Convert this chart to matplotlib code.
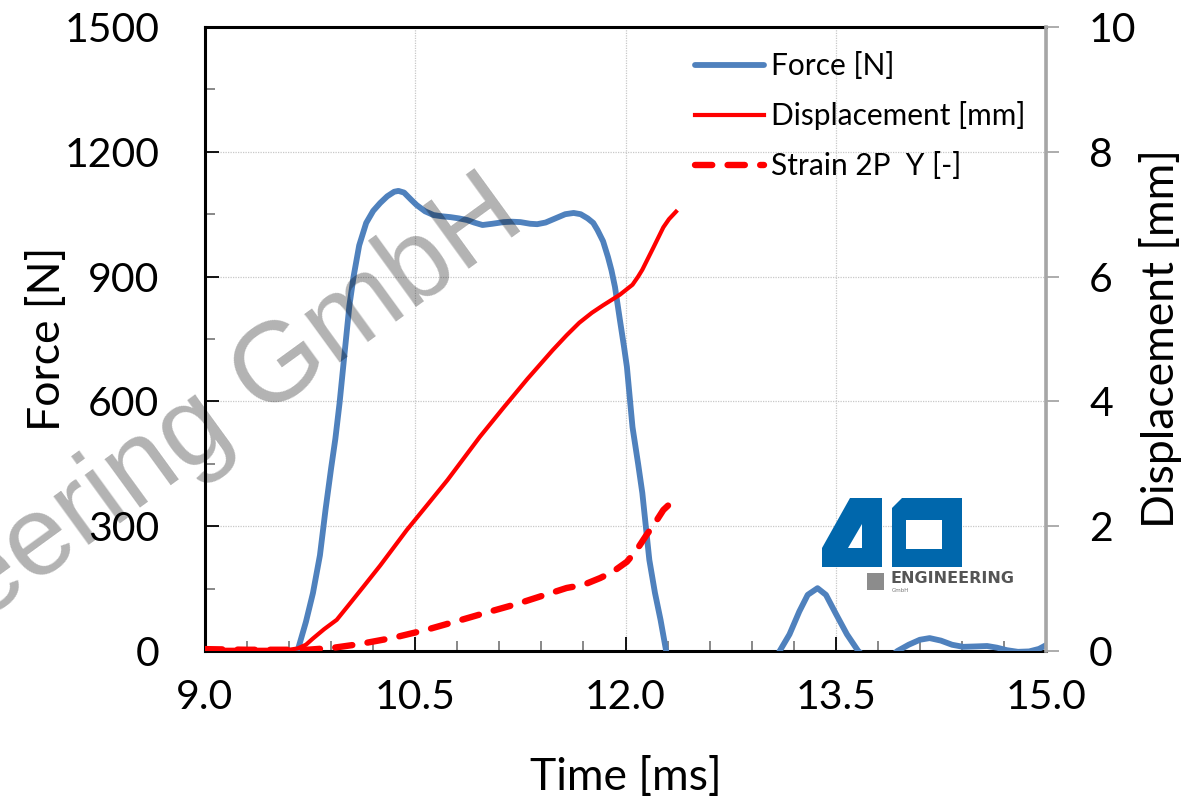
import matplotlib.pyplot as plt
from matplotlib.patches import Polygon

plt.rcParams['font.family'] = ['Lato', 'DejaVu Sans']

# force signal [ms, N]
t_force = [9.0, 9.3, 9.55, 9.66, 9.72, 9.77, 9.82, 9.86, 9.9, 9.93, 9.96, 10.0,
           10.03, 10.06, 10.1, 10.15, 10.2, 10.25, 10.3, 10.35, 10.38, 10.42,
           10.47, 10.51, 10.57, 10.63, 10.69, 10.75, 10.81, 10.87, 10.92, 10.98,
           11.05, 11.13, 11.19, 11.25, 11.32, 11.37, 11.43, 11.5, 11.57, 11.63,
           11.68, 11.73, 11.77, 11.8, 11.84, 11.875, 11.9, 11.925, 11.96, 11.99,
           12.01, 12.05, 12.09, 12.12, 12.17, 12.21, 12.25, 12.29, 12.4, 12.6,
           12.8, 13.0, 13.1, 13.17, 13.24, 13.3, 13.37, 13.43, 13.5, 13.58,
           13.66, 13.8, 13.94, 14.02, 14.1, 14.17, 14.25, 14.33, 14.41, 14.5,
           14.58, 14.65, 14.72, 14.8, 14.88, 14.95, 15.0]
force = [-60, -90, -40, 0, 70, 139, 230, 340, 440, 510, 596, 730,
         830, 900, 975, 1029, 1058, 1077, 1093, 1104, 1106, 1102,
         1085, 1072, 1057, 1048, 1045, 1043, 1040, 1036, 1030, 1024,
         1027, 1031, 1032, 1031, 1027, 1026, 1030, 1040, 1050, 1053,
         1050, 1040, 1029, 1012, 985, 947, 915, 875, 796, 730,
         683, 538, 450, 380, 219, 140, 75, 0, -120, -200,
         -180, -70, 0, 40, 95, 135, 151, 135, 90, 40,
         0, -40, 0, 15, 27, 31, 25, 15, 10, 11,
         12, 8, 2, -2, -1, 5, 14]

# displacement [ms, mm]
t_disp = [9.0, 9.3, 9.6, 9.66, 9.72, 9.77, 9.85, 9.94, 10.03, 10.13, 10.25,
          10.44, 10.6, 10.73, 10.96, 11.13, 11.3, 11.48, 11.58, 11.67, 11.76,
          11.84, 11.96, 12.05, 12.09, 12.12, 12.16, 12.2, 12.27, 12.31, 12.36]
disp = [0.02, 0.02, 0.02, 0.04, 0.1, 0.2, 0.35, 0.5, 0.75, 1.03, 1.37,
        1.94, 2.38, 2.74, 3.43, 3.9, 4.36, 4.82, 5.06, 5.26, 5.42,
        5.54, 5.71, 5.87, 6.0, 6.11, 6.29, 6.47, 6.79, 6.92, 7.04]

# strain 2P Y [-]
t_strain = [9.0, 9.3, 9.6, 9.73, 9.91, 10.1, 10.34, 10.58, 10.8, 11.03, 11.22,
            11.4, 11.58, 11.7, 11.82, 11.91, 12.01, 12.08, 12.15, 12.21, 12.27,
            12.36]
strain = [0.03, 0.02, 0.02, 0.02, 0.05, 0.11, 0.21, 0.34, 0.48, 0.63, 0.75,
          0.88, 1.01, 1.06, 1.17, 1.27, 1.43, 1.62, 1.86, 2.05, 2.26,
          2.45]

x_ticks = [9.0, 10.5, 12.0, 13.5, 15.0]
y_ticks = [0, 300, 600, 900, 1200, 1500]
y2_ticks = [0, 2, 4, 6, 8, 10]

fig = plt.figure(figsize=(11.98, 8.0), dpi=100)
ax = fig.add_axes([205 / 1198, 1 - 651 / 800, 841 / 1198, 624 / 800])
ax2 = ax.twinx()

l1, = ax.plot(t_force, force, color='#4F81BD', lw=4.2, solid_capstyle='round',
              solid_joinstyle='round', zorder=3)
l2, = ax2.plot(t_disp, disp, color='#FF0000', lw=3.0, solid_joinstyle='round', zorder=3)
l3, = ax2.plot(t_strain, strain, color='#FF0000', lw=4.6, dashes=(2.7, 2.4),
               dash_capstyle='round', dash_joinstyle='round', zorder=3)

ax.set_xlim(9.0, 15.0)
ax.set_ylim(0, 1500)
ax2.set_ylim(0, 10)
ax.set_xticks(x_ticks)
ax.set_xticklabels([f'{v:.1f}' for v in x_ticks])
ax.set_xticks([9.0 + 0.3 * i for i in range(21)], minor=True)
ax.set_yticks(y_ticks)
ax.set_yticks(list(range(0, 1501, 150)), minor=True)
ax2.set_yticks(y2_ticks)

ax.grid(True, which='major', color='#C8C8C8', linestyle=(0, (1, 1)), lw=0.9)
ax.set_axisbelow(True)

ax.tick_params(axis='both', which='major', direction='in', length=10, width=1.3,
               color='black', labelsize=29.5)
ax.tick_params(axis='y', which='major', pad=33)
ax.tick_params(axis='x', which='major', pad=20)
ax.tick_params(axis='both', which='minor', direction='in', length=7, width=1.3,
               color='#7F7F7F')
ax2.tick_params(axis='y', which='major', direction='out', length=9, width=1.3,
                color='#A6A6A6', labelsize=29.5, pad=22)

for s in ['left', 'bottom', 'top']:
    ax.spines[s].set_linewidth(2.2)
    ax.spines[s].set_color('black')
ax2.spines['right'].set_color('#A6A6A6')
ax2.spines['right'].set_linewidth(2.6)
for s in ['left', 'bottom', 'top']:
    ax2.spines[s].set_visible(False)

ax.set_xlabel('Time [ms]', fontsize=32, labelpad=30)
ax.set_ylabel('Force [N]', fontsize=32, labelpad=-3)
ax2.set_ylabel('Displacement [mm]', fontsize=32, labelpad=2)

leg = ax2.legend([l1, l2, l3], ['Force [N]', 'Displacement [mm]', 'Strain 2P  Y [-]'],
                 loc='upper left', bbox_to_anchor=(695 / 1198, 1 - 52 / 800),
                 bbox_transform=fig.transFigure, frameon=False, fontsize=21.5,
                 handlelength=2.3, handletextpad=0.25, labelspacing=0.72,
                 borderpad=0, borderaxespad=0)

# company logo (figure pixel coordinates, y downwards)
def px(x, y):
    return (x / 1198, 1 - y / 800)

blue = '#0067AC'
four = [px(850, 498), px(882, 498), px(882, 567), px(822, 567), px(822, 548)]
fig.patches.append(Polygon(four, closed=True, transform=fig.transFigure,
                           facecolor=blue, edgecolor='none', zorder=5))
hole4 = [px(862, 524), px(862, 548), px(848, 548)]
fig.patches.append(Polygon(hole4, closed=True, transform=fig.transFigure,
                           facecolor='white', edgecolor='none', zorder=6))
a_out = [px(902, 498), px(962, 498), px(962, 567), px(892, 567), px(892, 508)]
fig.patches.append(Polygon(a_out, closed=True, transform=fig.transFigure,
                           facecolor=blue, edgecolor='none', zorder=5))
a_hole = [px(906, 520), px(942, 520), px(942, 549), px(906, 549)]
fig.patches.append(Polygon(a_hole, closed=True, transform=fig.transFigure,
                           facecolor='white', edgecolor='none', zorder=6))
sq = [px(867, 573), px(884, 573), px(884, 590), px(867, 590)]
fig.patches.append(Polygon(sq, closed=True, transform=fig.transFigure,
                           facecolor='#8C8C8C', edgecolor='none', zorder=5))
fig.text(*px(891, 583), 'ENGINEERING', fontsize=11.5, fontweight='bold',
         color='#555555', family='DejaVu Sans', ha='left', va='baseline', zorder=7)
fig.text(*px(892, 592), 'GmbH', fontsize=4, color='#777777',
         family='DejaVu Sans', ha='left', va='baseline', zorder=7)

# watermark
fig.text(*px(528, 226), '4a engineering GmbH', fontsize=82, color='black', alpha=0.3,
         family='Liberation Sans', rotation=36, rotation_mode='anchor',
         ha='right', va='baseline', zorder=20)

fig.savefig('out.png', dpi=100)
